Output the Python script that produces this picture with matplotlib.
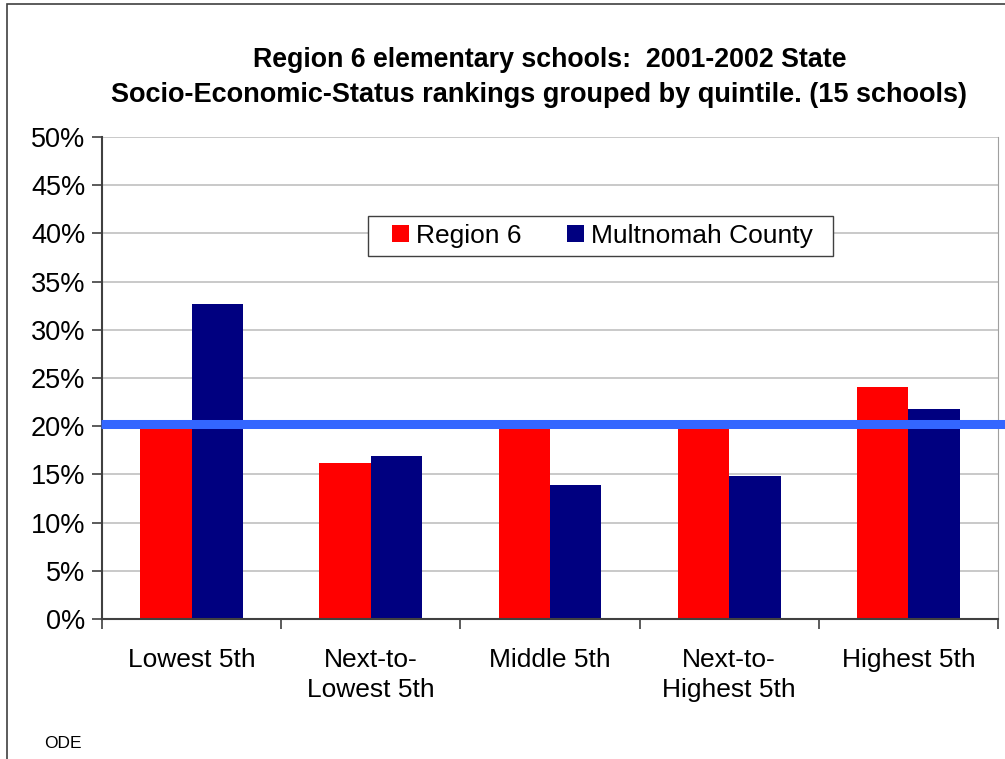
import numpy as np
import matplotlib.pyplot as plt
from matplotlib.patches import Rectangle
from matplotlib.ticker import FuncFormatter

plt.rcParams['font.family'] = ['Liberation Sans', 'DejaVu Sans']

categories = ['Lowest 5th', 'Next-to-\nLowest 5th', 'Middle 5th', 'Next-to-\nHighest 5th', 'Highest 5th']
region6 = [20.0, 16.2, 20.0, 20.0, 24.1]
multnomah = [32.7, 16.9, 13.9, 14.8, 21.8]
state_line = 20.2

fig = plt.figure(figsize=(10.05, 7.59), dpi=100)
W, H = 1005, 759
ax = fig.add_axes([102 / W, 1 - 619 / H, 896 / W, 482 / H])

# outer chart frame (right and bottom run off the image)
fig.patches.append(Rectangle((7 / W, -0.1), 1.2, 1 - 4 / H + 0.1, transform=fig.transFigure,
                             fill=False, edgecolor='#404040', linewidth=1.2))

x = np.arange(len(categories))
bw = 0.287
ax.bar(x - bw / 2, region6, bw, color='#FF0000', label='Region 6', zorder=2)
ax.bar(x + bw / 2, multnomah, bw, color='#000080', label='Multnomah County', zorder=2)

ax.plot([-0.505, 5.05], [state_line, state_line], color='#3366FF', linewidth=6.5,
        solid_capstyle='butt', zorder=3, clip_on=False)

ax.set_xlim(-0.5, 4.5)
ax.set_ylim(0, 50)
ax.set_yticks(np.arange(0, 51, 5))
ax.yaxis.set_major_formatter(FuncFormatter(lambda v, p: f'{v:.0f}%'))
ax.grid(axis='y', color='#C0C0C0', linewidth=1.2, zorder=0)
ax.set_axisbelow(True)

ax.set_xticks(np.arange(-0.5, 4.6, 1))
ax.set_xticklabels([])
ax.set_xticks(x, minor=True)
ax.set_xticklabels(categories, minor=True, fontsize=19, va='top', linespacing=1.33)
ax.tick_params(axis='x', which='minor', length=0, pad=21)
ax.tick_params(axis='x', which='major', length=7, width=1.2, color='#404040', direction='out')
ax.tick_params(axis='y', length=7, width=1.2, color='#404040', labelsize=19.5, pad=5)

ax.spines['top'].set_visible(False)
ax.spines['right'].set_color('#A0A0A0')
for s in ('left', 'bottom'):
    ax.spines[s].set_color('#404040')
    ax.spines[s].set_linewidth(1.5)

fig.text(550 / W, 1 - 60 / H, 'Region 6 elementary schools:  2001-2002 State',
         ha='center', va='center', fontsize=19.3, fontweight='bold')
fig.text(539 / W, 1 - 95 / H, 'Socio-Economic-Status rankings grouped by quintile. (15 schools)',
         ha='center', va='center', fontsize=19.5, fontweight='bold')

# legend box
ax.add_patch(Rectangle((368 / W, 1 - 256 / H), 465 / W, 40 / H, transform=fig.transFigure,
                       facecolor='white', edgecolor='#404040', linewidth=1.0, zorder=4,
                       clip_on=False))
leg = ax.legend(loc='center left', bbox_to_anchor=(392 / W, 1 - 236 / H), bbox_transform=fig.transFigure,
                ncol=2, fontsize=19, frameon=False, borderpad=0, borderaxespad=0,
                handlelength=0.64, handleheight=0.64, handletextpad=0.27, columnspacing=1.74)
leg.set_zorder(5)

fig.text(44 / W, 1 - 744 / H, 'ODE', fontsize=12.5, ha='left', va='center')

fig.savefig('out.png', dpi=100)
